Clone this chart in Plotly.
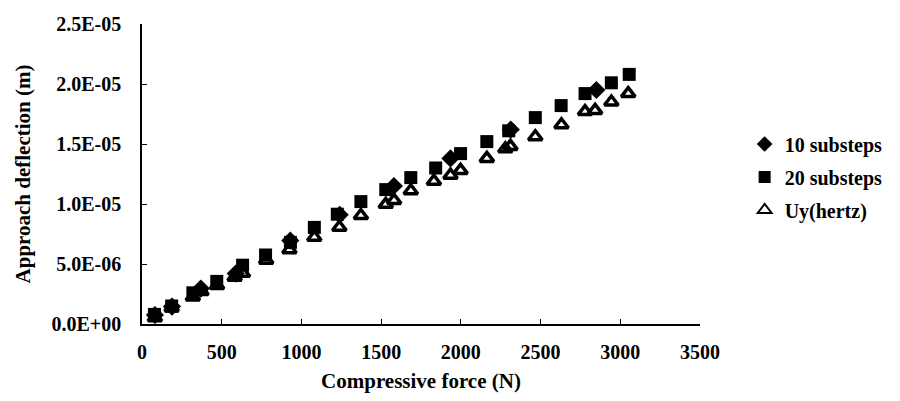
import plotly.graph_objects as go

# 20 substeps
f20 = [78, 186, 319, 469, 631, 775, 931, 1081, 1225, 1373, 1529, 1686, 1842, 1998,
       2163, 2300, 2467, 2629, 2779, 2944, 3056]
d20 = [8.0e-7, 1.5e-6, 2.6e-6, 3.55e-6, 4.9e-6, 5.75e-6, 6.8e-6, 8.05e-6, 9.15e-6, 1.02e-5,
       1.12e-5, 1.22e-5, 1.30e-5, 1.42e-5, 1.52e-5, 1.61e-5, 1.72e-5, 1.82e-5, 1.92e-5,
       2.01e-5, 2.08e-5]

# 10 substeps
f10 = [81, 188, 369, 588, 930, 1240, 1580, 1935, 2313, 2850]
d10 = [7.5e-7, 1.45e-6, 2.95e-6, 4.2e-6, 6.95e-6, 9.1e-6, 1.15e-5, 1.38e-5, 1.62e-5, 1.95e-5]

# Hertz
fh = [81, 186, 319, 373, 471, 581, 633, 779, 925, 1081, 1238, 1373, 1529, 1581, 1686, 1831,
      1935, 1998, 2163, 2279, 2311, 2467, 2631, 2779, 2842, 2944, 3050]
dh = [5.2e-7, 1.34e-6, 2.24e-6, 2.71e-6, 3.2e-6, 3.89e-6, 4.22e-6, 5.32e-6, 6.19e-6, 7.23e-6,
      8.06e-6, 9.04e-6, 9.97e-6, 1.03e-5, 1.11e-5, 1.19e-5, 1.24e-5, 1.28e-5, 1.38e-5,
      1.46e-5, 1.48e-5, 1.56e-5, 1.66e-5, 1.77e-5, 1.78e-5, 1.85e-5, 1.92e-5]

x_ticks = [0, 500, 1000, 1500, 2000, 2500, 3000, 3500]
y_ticks = [0, 5e-6, 1e-5, 1.5e-5, 2e-5, 2.5e-5]
y_ticktext = ["0.0E+00", "5.0E-06", "1.0E-05", "1.5E-05", "2.0E-05", "2.5E-05"]

FONT = "Liberation Serif"

fig = go.Figure()
fig.add_trace(go.Scatter(x=f10, y=d10, mode="markers", name="<b>10 substeps</b>",
                         legendgroup="a",
                         marker=dict(symbol="diamond", size=14, color="black")))
fig.add_trace(go.Scatter(x=f20, y=d20, mode="markers", name="<b>20 substeps</b>",
                         legendgroup="b",
                         marker=dict(symbol="square", size=13, color="black")))
fig.add_trace(go.Scatter(x=fh, y=dh, mode="markers", name="<b>Uy(hertz)</b>",
                         legendgroup="c",
                         marker=dict(symbol="triangle-up-open", size=12, color="black",
                                     line=dict(width=3.5, color="black"))))

fig.update_layout(
    width=900, height=401,
    margin=dict(l=142, r=198, t=24, b=73),
    paper_bgcolor="white", plot_bgcolor="white",
    font=dict(family=FONT, color="black", size=20),
    showlegend=True,
    legend=dict(x=1.08, y=0.665, xanchor="left", yanchor="top",
                font=dict(family=FONT, size=20, color="black"),
                tracegroupgap=4, traceorder="grouped",
                bgcolor="rgba(0,0,0,0)", itemsizing="constant"),
    xaxis=dict(range=[0, 3500], tickvals=x_ticks,
               ticktext=["<b>%d</b>" % v for v in x_ticks],
               showline=True, linecolor="black", linewidth=1.5,
               ticks="inside", ticklen=5, tickcolor="black",
               showgrid=False, zeroline=False, ticklabelstandoff=9,
               title=dict(text="<b>Compressive force (N)</b>", standoff=12,
                          font=dict(family=FONT, size=21))),
    yaxis=dict(range=[0, 2.5e-5], tickvals=y_ticks,
               ticktext=["<b>%s</b>" % t for t in y_ticktext],
               showline=True, linecolor="black", linewidth=1.5,
               ticks="inside", ticklen=5, tickcolor="black",
               showgrid=False, zeroline=False, ticklabelstandoff=15,
               title=dict(text="<b>Approach deflection (m)</b>", standoff=15,
                          font=dict(family=FONT, size=21))),
)

fig.write_html("out.html")
